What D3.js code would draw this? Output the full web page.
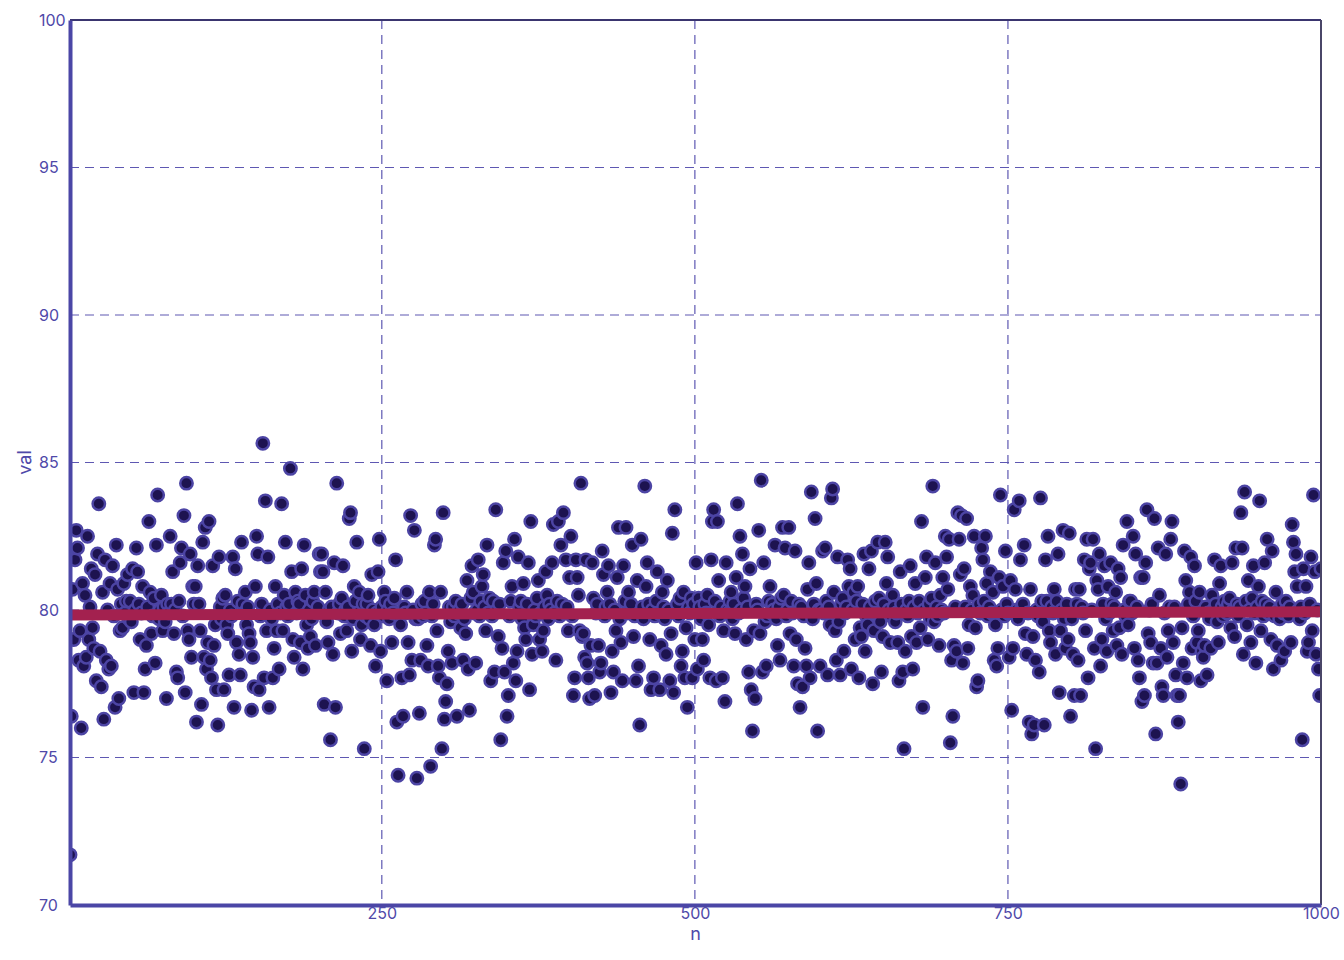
<!DOCTYPE html>
<html><head><meta charset="utf-8">
<script src="https://cdn.jsdelivr.net/npm/d3@7"></script>
<style>body{margin:0;background:#fff} text{font-family:Inter,"DejaVu Sans",sans-serif}</style>
</head><body><svg id="c" width="1344" height="960"></svg>
<script>
// val for n = 1..1000 (chunks of 100)
const valA = [71.7,76.4,80.7,79.0,81.7,82.7,82.1,78.3,79.3,76.0,
80.9,78.1,80.5,78.4,82.5,79.0,80.1,81.4,79.4,78.7,
81.2,77.6,81.9,83.6,78.6,77.4,80.6,76.3,81.7,78.3,
80.0,78.0,80.9,78.1,81.5,79.8,76.7,82.2,80.7,77.0,
79.3,80.2,79.4,80.9,79.9,80.3,81.2,79.7,80.3,79.6,
81.4,77.2,80.0,82.1,81.3,80.2,79.0,79.9,80.8,77.2,
78.0,78.8,80.1,83.0,80.6,79.2,79.8,80.4,78.2,82.2,
83.9,79.7,80.0,80.5,79.3,80.1,79.6,77.0,80.2,79.9,
82.5,80.2,81.3,79.2,80.0,77.9,77.7,80.3,81.6,82.1,
79.8,83.2,77.2,84.3,79.3,79.0,81.9,78.4,80.8,80.2];
const valB = [80.8,76.2,81.5,80.2,79.3,76.8,82.3,78.4,82.8,78.0,
78.9,83.0,78.3,77.7,81.5,78.8,79.5,77.3,76.1,81.8,
80.1,79.7,80.4,77.3,80.5,79.5,79.2,77.8,80.0,79.8,
81.8,76.7,81.4,78.9,80.3,78.5,77.8,82.3,80.2,79.9,
80.6,79.5,80.1,79.2,78.9,76.6,78.4,77.4,80.8,82.5,
81.9,77.3,79.8,80.2,85.65,77.7,83.7,79.3,81.8,76.7,
80.0,79.7,77.7,78.7,80.8,79.3,80.2,78.0,79.9,83.6,
79.3,80.5,82.3,80.1,79.8,80.2,84.8,81.3,79.0,78.4,
80.6,79.9,80.3,80.2,78.9,81.4,78.0,82.2,80.5,79.5,
78.7,80.0,79.1,79.7,80.3,80.6,78.8,79.9,80.1,81.9];
const valC = [81.3,81.9,81.3,76.8,80.6,79.6,78.9,80.0,75.6,80.1,
78.5,81.6,76.7,84.3,79.9,80.2,79.2,80.4,81.5,79.8,
80.0,79.3,80.1,83.1,83.3,78.6,79.7,80.8,80.3,82.3,
79.9,80.6,79.0,79.5,80.2,75.3,79.8,80.2,80.5,79.7,
78.8,81.2,80.0,79.5,78.1,79.9,81.3,82.4,78.6,80.1,
79.8,80.6,80.3,77.6,80.0,79.7,80.2,78.9,79.9,80.4,
81.7,76.2,74.4,79.8,79.5,77.7,76.4,80.1,79.9,80.6,
78.9,77.8,83.2,78.3,80.0,82.7,79.7,74.3,79.7,76.5,
78.3,80.2,79.8,80.3,79.9,78.8,78.1,80.6,74.7,79.8,
80.2,82.2,82.4,79.3,78.1,77.7,80.6,75.3,83.3,76.3];
const valD = [76.9,77.5,78.6,80.1,79.6,78.2,80.1,79.8,80.3,76.4,
79.9,80.0,79.4,80.2,78.3,79.7,79.2,81.0,78.0,76.6,
80.4,81.5,80.6,79.9,78.2,80.0,81.7,79.8,80.3,80.8,
81.2,80.1,79.3,82.2,79.9,80.4,77.6,79.8,80.3,77.9,
83.4,80.0,79.1,80.2,75.6,78.7,81.6,77.9,82.0,76.4,
77.1,79.8,80.3,80.8,78.2,82.4,77.6,78.6,81.8,80.1,
80.3,79.7,80.9,79.4,79.0,80.2,81.6,77.3,83.0,78.5,
79.5,80.0,79.8,80.4,81.0,79.0,79.9,78.6,79.3,80.1,
81.3,80.5,79.7,80.2,80.0,81.6,82.9,79.9,78.3,80.3,
83.0,79.8,82.2,80.2,83.3,79.9,81.7,80.1,79.3,81.1];
const valE = [82.5,79.8,77.1,77.7,81.7,81.1,80.5,79.3,84.3,79.1,
79.2,78.4,81.7,78.2,77.7,77.0,78.8,81.6,80.4,77.1,
79.9,80.2,78.8,77.9,78.2,82.0,81.2,79.8,80.1,80.6,
81.5,80.2,77.2,78.6,77.9,80.0,79.3,81.1,82.8,79.7,
78.9,77.6,81.5,80.3,82.8,79.9,80.6,80.0,80.2,82.2,
79.1,79.8,77.6,81.0,78.1,76.1,82.4,80.1,79.7,84.2,
80.8,81.6,80.2,79.0,77.3,80.0,77.7,79.8,80.3,81.3,
79.9,77.3,78.8,80.6,80.1,79.7,78.5,81.0,80.0,77.6,
79.2,82.6,77.2,83.4,79.9,80.2,79.8,80.4,78.1,78.6,
80.6,77.7,79.4,76.7,80.1,79.9,80.4,77.7,80.2,79.0];
const valF = [81.6,78.0,80.4,80.1,79.7,79.0,78.3,80.2,79.9,80.5,
79.5,77.7,81.7,83.0,83.4,80.3,77.6,83.0,81.0,79.8,
80.1,77.7,79.3,76.9,81.6,80.0,79.9,80.3,80.6,79.7,
80.2,79.2,81.1,83.6,79.9,82.5,80.0,81.9,80.4,80.8,
79.0,80.1,77.9,81.4,77.3,75.9,79.3,77.0,80.2,80.0,
82.7,79.2,84.4,77.9,81.6,79.6,78.1,79.8,80.3,80.8,
79.9,80.2,80.0,82.2,79.7,78.8,80.1,78.3,80.4,82.8,
80.5,82.1,79.8,80.0,82.8,79.2,80.3,79.9,78.1,82.0,
79.0,77.5,80.2,76.7,80.1,77.4,79.8,78.7,78.1,80.7,
81.6,77.7,84.0,79.7,80.2,83.1,80.9,75.9,80.0,78.1];
const valG = [80.0,82.0,79.9,82.1,80.3,77.8,80.1,79.5,83.8,84.1,
80.6,79.3,78.3,81.8,79.6,77.8,80.2,80.4,78.6,79.9,
80.1,81.7,80.8,81.4,78.0,80.0,80.6,79.0,80.3,80.8,
77.7,79.4,79.1,80.2,81.9,78.6,79.8,79.5,81.4,80.1,
82.0,77.5,79.3,80.3,79.9,82.3,80.4,79.6,77.9,79.1,
80.2,82.3,80.9,81.8,80.0,78.9,79.8,80.5,80.1,79.6,
79.9,78.9,77.6,81.3,80.2,77.9,75.3,78.6,80.0,79.8,
80.3,81.5,79.1,78.0,80.1,80.9,78.9,79.9,80.3,79.4,
83.0,76.7,80.0,81.1,81.8,79.0,80.2,79.7,80.4,84.2,
79.6,81.6,80.1,79.8,78.8,80.5,80.0,81.1,79.9,82.5];
const valH = [81.8,80.7,82.4,75.5,78.3,76.4,78.8,80.1,78.6,83.3,
82.4,81.2,83.2,78.2,81.4,80.1,83.1,78.7,79.5,80.8,
80.0,80.5,82.5,79.4,77.4,77.6,80.2,79.9,82.1,81.7,
80.3,82.5,80.9,79.8,80.1,81.3,79.9,80.6,78.3,79.5,
78.1,78.7,81.1,83.9,80.0,80.8,79.8,82.0,80.2,79.9,
78.4,81.0,76.6,78.7,83.4,80.7,80.0,79.7,83.7,81.7,
80.1,80.2,82.2,79.2,78.5,79.9,76.2,80.7,75.8,79.1,
76.1,78.3,80.0,79.8,77.9,83.8,80.3,79.6,76.1,81.7,
80.3,82.5,79.3,78.9,80.1,79.9,80.7,78.5,80.3,81.9,
77.2,79.3,80.0,82.7,79.7,78.7,80.2,79.0,82.6,76.4];
const valI = [79.7,78.5,77.1,80.7,80.2,78.3,80.7,77.1,80.1,79.9,
81.7,79.3,82.4,77.7,81.4,81.6,80.0,82.4,78.7,75.3,
81.0,80.7,81.9,78.1,79.0,80.2,81.5,79.7,78.6,80.8,
79.9,81.6,80.2,79.3,80.1,80.6,78.8,81.4,79.4,81.1,
78.5,82.2,80.0,79.8,83.0,79.5,80.3,80.3,79.9,82.5,
78.7,81.9,80.1,78.3,77.7,81.1,76.9,81.1,77.1,81.6,
83.4,79.2,80.0,78.9,80.2,78.2,83.1,75.8,78.2,82.1,
80.5,78.7,77.4,77.1,79.9,81.9,78.4,79.3,80.1,82.4,
83.0,78.9,80.1,77.8,77.1,76.2,77.1,74.1,79.4,78.2,
82.0,81.0,77.7,80.2,80.6,81.8,78.7,79.8,81.5,80.3];
const valJ = [78.9,79.3,80.6,77.6,78.6,78.4,78.8,80.1,77.8,79.9,
79.7,78.7,80.5,80.0,81.7,80.2,79.6,78.9,80.9,81.5,
80.1,79.8,80.3,80.0,79.9,80.2,80.4,79.4,81.6,80.0,
79.1,82.1,80.2,79.8,80.1,83.3,82.1,78.5,84.0,80.3,
79.5,81.0,80.0,78.9,80.4,81.5,79.9,78.2,80.1,80.8,
83.7,79.3,80.3,79.8,81.6,80.2,82.4,79.9,80.1,79.0,
82.0,78.0,79.8,80.6,78.8,80.0,79.7,78.3,80.2,79.9,
78.6,80.3,80.0,79.8,80.1,78.9,82.9,82.3,81.3,81.9,
80.8,80.0,79.7,80.1,75.6,81.4,79.9,80.8,78.6,78.9,
80.2,81.8,79.3,83.9,81.3,78.5,80.0,78.0,77.1,81.4];

const xTicks = [250, 500, 750, 1000];
const yTicks = [70, 75, 80, 85, 90, 95, 100];
const trendN = [1, 1000];
const trendVal = [79.83, 79.94];

const values = [].concat(valA, valB, valC, valD, valE, valF, valG, valH, valI, valJ);
const data = values.map((v, i) => ({n: i + 1, val: v}));

const L = 70, R = 1321, T = 20, B = 905;
const svg = d3.select("#c");
svg.append("rect").attr("width", 1344).attr("height", 960).attr("fill", "#fff");

const x = d3.scaleLinear().domain([1, 1000]).range([L, R]);
const y = d3.scaleLinear().domain([70, 100]).range([B, T]);

const AX = "#4b46a6", GRID = "#5e58b2", TXT = "#4f49a9";

// grid
const grid = svg.append("g");
grid.selectAll("line.h").data(yTicks.filter(t => t > 70 && t < 100)).join("line")
  .attr("x1", L).attr("x2", R).attr("y1", d => y(d)).attr("y2", d => y(d))
  .attr("stroke", GRID).attr("stroke-width", 1.2).attr("stroke-dasharray", "9,6");
grid.selectAll("line.v").data(xTicks.filter(t => t < 1000)).join("line")
  .attr("x1", d => x(d)).attr("x2", d => x(d)).attr("y1", T).attr("y2", B)
  .attr("stroke", GRID).attr("stroke-width", 1.2).attr("stroke-dasharray", "9,6");

svg.append("clipPath").attr("id", "clip").append("rect")
  .attr("x", L).attr("y", T).attr("width", R - L).attr("height", B - T);
const plot = svg.append("g").attr("clip-path", "url(#clip)");

plot.selectAll("circle").data(data).join("circle")
  .attr("cx", d => x(d.n)).attr("cy", d => y(d.val)).attr("r", 6.2)
  .attr("fill", "#1d1350").attr("stroke", "#4c44a4").attr("stroke-width", 2.5);

const trend = trendN.map((n, i) => ({n, val: trendVal[i]}));
plot.append("path").datum(trend)
  .attr("d", d3.line().x(d => x(d.n)).y(d => y(d.val)))
  .attr("stroke", "#a3214f").attr("stroke-width", 11).attr("fill", "none");

// borders
svg.append("line").attr("x1", L).attr("x2", R).attr("y1", T).attr("y2", T)
  .attr("stroke", "#3a356f").attr("stroke-width", 2);
svg.append("line").attr("x1", R).attr("x2", R).attr("y1", T).attr("y2", B)
  .attr("stroke", "#4a4668").attr("stroke-width", 2);

// axes
const yAxis = svg.append("g").attr("transform", `translate(${L},0)`)
  .call(d3.axisLeft(y).tickValues(yTicks).tickSize(0).tickSizeOuter(0).tickFormat(d3.format("d")));
yAxis.select(".domain").attr("stroke", AX).attr("stroke-width", 4);
yAxis.selectAll("text").attr("x", -31).attr("text-anchor", "start")
  .attr("fill", TXT).style("font-size", "16px").style("font-family", "Inter, sans-serif");

const xAxis = svg.append("g").attr("transform", `translate(0,${B})`)
  .call(d3.axisBottom(x).tickValues(xTicks).tickSize(0).tickSizeOuter(0).tickPadding(3).tickFormat(d3.format("d")));
xAxis.select(".domain").attr("stroke", AX).attr("stroke-width", 4);
xAxis.selectAll("text").attr("fill", TXT).style("font-size", "16px").style("font-family", "Inter, sans-serif");

svg.append("text").attr("transform", `translate(25,${(T + B) / 2}) rotate(-90)`)
  .attr("text-anchor", "middle").attr("dy", "0.35em").attr("fill", TXT)
  .style("font-size", "18px").text("val");
svg.append("text").attr("x", (L + R) / 2).attr("y", 940).attr("text-anchor", "middle")
  .attr("fill", TXT).style("font-size", "18px").text("n");
</script></body></html>
